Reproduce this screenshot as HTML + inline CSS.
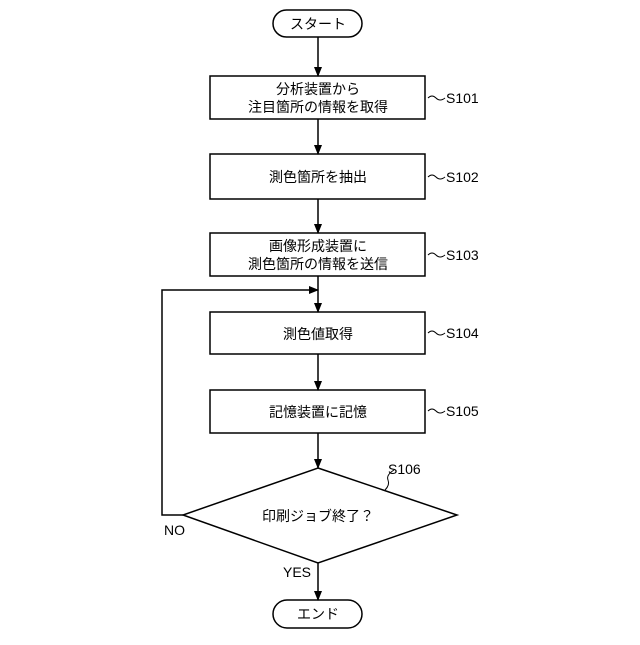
<!DOCTYPE html>
<html><head><meta charset="utf-8"><style>body{margin:0;background:#fff}</style></head><body>
<svg width="640" height="640" xmlns="http://www.w3.org/2000/svg" font-family="'Liberation Sans','Noto Sans CJK JP',sans-serif" font-size="14" fill="none" stroke="#000" stroke-width="1.5">
<defs><marker id="a" markerWidth="10" markerHeight="10" refX="9" refY="5" orient="auto" markerUnits="userSpaceOnUse"><path d="M0,1 L10,5 L0,9 Z" fill="#000" stroke="none"/></marker></defs>
<rect x="273" y="10" width="89" height="27" rx="13.5"/>
<rect x="210" y="76" width="215" height="43"/>
<rect x="210" y="154" width="215" height="45"/>
<rect x="210" y="233" width="215" height="43"/>
<rect x="210" y="312" width="215" height="42"/>
<rect x="210" y="390" width="215" height="43"/>
<path d="M318,468 L457,515 L318,563 L183,515 Z"/>
<rect x="273" y="600" width="89" height="28" rx="14"/>
<g marker-end="url(#a)">
<line x1="318" y1="37" x2="318" y2="76"/>
<line x1="318" y1="119" x2="318" y2="154"/>
<line x1="318" y1="199" x2="318" y2="233"/>
<line x1="318" y1="276" x2="318" y2="312"/>
<line x1="318" y1="354" x2="318" y2="390"/>
<line x1="318" y1="433" x2="318" y2="468"/>
<line x1="318" y1="563" x2="318" y2="600"/>
<polyline points="183,515 162,515 162,290 318,290"/>
</g>
<g stroke-width="1">
<path d="M428,98 q4,-4 8,0 t9,0"/>
<path d="M428,177 q4,-4 8,0 t9,0"/>
<path d="M428,255 q4,-4 8,0 t9,0"/>
<path d="M428,333 q4,-4 8,0 t9,0"/>
<path d="M428,411 q4,-4 8,0 t9,0"/>
<path d="M385,490 q5,-5 3,-10 t6,-10"/>
</g>
<g fill="#000" stroke="none" text-anchor="middle">
<text x="318" y="29">スタート</text>
<text x="318" y="94">分析装置から</text>
<text x="318" y="112">注目箇所の情報を取得</text>
<text x="318" y="182">測色箇所を抽出</text>
<text x="318" y="251">画像形成装置に</text>
<text x="318" y="269">測色箇所の情報を送信</text>
<text x="318" y="339">測色値取得</text>
<text x="318" y="417">記憶装置に記憶</text>
<text x="318" y="521">印刷ジョブ終了？</text>
<text x="318" y="619">エンド</text>
<g text-anchor="start">
<text x="446" y="103">S101</text>
<text x="446" y="182">S102</text>
<text x="446" y="260">S103</text>
<text x="446" y="338">S104</text>
<text x="446" y="416">S105</text>
<text x="388" y="474">S106</text>
<text x="164" y="535">NO</text>
<text x="283" y="577">YES</text>
</g>
</g>
</svg>
</body></html>
